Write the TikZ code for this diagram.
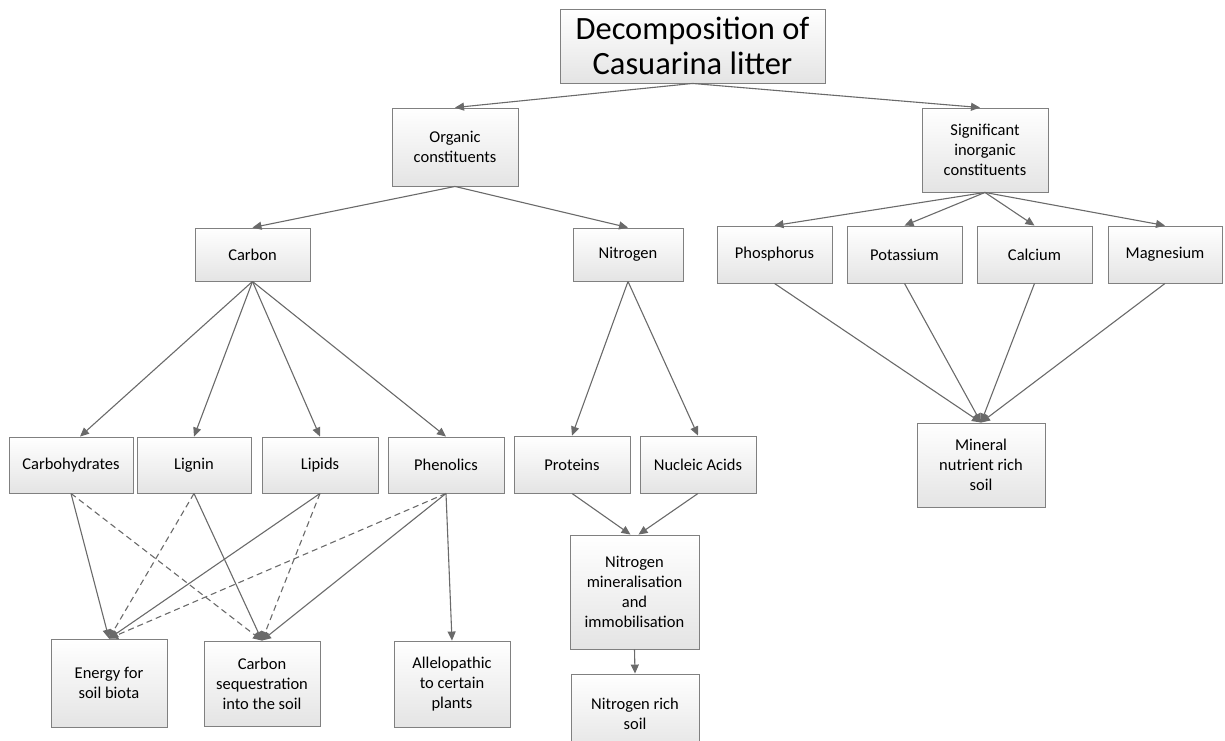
\documentclass[tikz,border=0pt]{standalone}
\usepackage{fontspec}
\setmainfont{Carlito}
\usetikzlibrary{arrows.meta,calc}
\definecolor{boxgray}{HTML}{808080}
\definecolor{fillgray}{HTML}{E4E4E4}
\definecolor{linegray}{HTML}{6A6A6A}
\newcommand{\mybox}[6]{\node[box,minimum width={(#4)-(#2)},minimum height={(#5)-(#3)}] (#1) at ({((#2)+(#4))/2},{((#3)+(#5))/2}) {#6};}
\begin{document}
\begin{tikzpicture}[x=1pt,y=-1pt,
 box/.style={draw=boxgray, line width=0.9pt, top color=white, bottom color=fillgray, align=center, inner sep=2pt, font=\fontsize{16.5}{20}\selectfont, text=black},
 titlebox/.style={box, font=\fontsize{32.5}{35}\selectfont},
 arr/.style={draw=linegray, line width=1.1pt, -{Triangle[length=9pt,width=8pt]}},
 dsh/.style={arr, dash pattern=on 6pt off 4pt},
]
\useasboundingbox (0,0) rectangle (1225,740);
\clip (0,0) rectangle (1225,740);
% boxes
\node[titlebox,minimum width=265,minimum height=74] (title) at (692.5,46) {Decomposition of\\Casuarina litter};
\mybox{org}{392}{108}{518}{186}{Organic\\constituents}
\mybox{sig}{922}{108}{1048}{192}{Significant\\inorganic\\constituents}
\mybox{carbon}{195}{228}{310}{281}{Carbon}
\mybox{nitro}{573}{228}{683}{281}{Nitrogen}
\mybox{phos}{717}{226}{832}{283}{Phosphorus}
\mybox{pota}{847}{226}{962}{283}{Potassium}
\mybox{calc}{977}{226}{1092}{283}{Calcium}
\mybox{magn}{1108}{226}{1222}{283}{Magnesium}
\mybox{carbo}{9}{437}{133}{493}{Carbohydrates}
\mybox{lign}{137}{437}{251}{493}{Lignin}
\mybox{lipi}{262}{437}{378}{493}{Lipids}
\mybox{phen}{388}{437}{504}{493}{Phenolics}
\mybox{prot}{514}{436}{630}{493}{Proteins}
\mybox{nucl}{640}{436}{756}{493}{Nucleic Acids}
\mybox{miner}{917}{423}{1045}{507}{Mineral\\nutrient rich\\soil}
\mybox{energy}{51}{639}{167}{727}{Energy for\\soil biota}
\mybox{cseq}{204}{641}{320}{726}{Carbon\\sequestration\\into the soil}
\mybox{allel}{394}{641}{510}{727}{Allelopathic\\to certain\\plants}
\mybox{nmin}{570}{535}{699}{649}{Nitrogen\\mineralisation\\and\\immobilisation}
\mybox{nsoil}{571}{674}{699}{754}{Nitrogen rich\\soil}
% connectors
\draw[arr] (title.south) -- (org.north);
\draw[arr] (title.south) -- ($(sig.north)+(-5,0)$);
\draw[arr] (org.south) -- (carbon.north);
\draw[arr] (org.south) -- (nitro.north);
\draw[arr] (sig.south) -- (phos.north);
\draw[arr] (sig.south) -- (pota.north);
\draw[arr] (sig.south) -- (calc.north);
\draw[arr] (sig.south) -- (magn.north);
\draw[arr] (carbon.south) -- ($(carbo.north)+(9,0)$);
\draw[arr] (carbon.south) -- (lign.north);
\draw[arr] (carbon.south) -- (lipi.north);
\draw[arr] (carbon.south) -- (phen.north);
\draw[arr] (nitro.south) -- (prot.north);
\draw[arr] (nitro.south) -- (nucl.north);
\draw[arr] (phos.south) -- (miner.north);
\draw[arr] (pota.south) -- (miner.north);
\draw[arr] (calc.south) -- (miner.north);
\draw[arr] (magn.south) -- (miner.north);
\draw[arr] (prot.south) -- ($(nmin.north)+(-4,0)$);
\draw[arr] (nucl.south) -- ($(nmin.north)+(4,0)$);
\draw[arr] (nmin.south) -- (nsoil.north);
\draw[arr] (carbo.south) -- (energy.north);
\draw[dsh] (carbo.south) -- (cseq.north);
\draw[dsh] (lign.south) -- (energy.north);
\draw[arr] (lign.south) -- (cseq.north);
\draw[arr] (lipi.south) -- (energy.north);
\draw[dsh] (lipi.south) -- (cseq.north);
\draw[dsh] (phen.south) -- (energy.north);
\draw[arr] (phen.south) -- (cseq.north);
\draw[arr] (phen.south) -- (allel.north);
\end{tikzpicture}
\end{document}
